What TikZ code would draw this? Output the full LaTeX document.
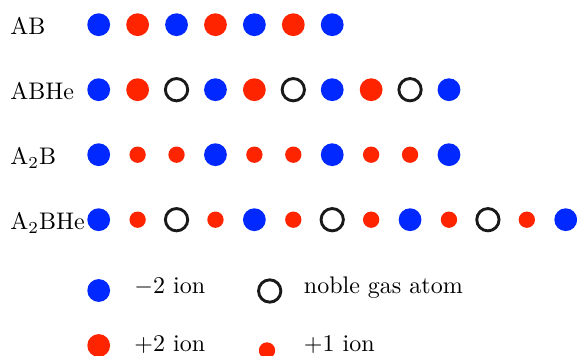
\documentclass[tikz,border=0pt]{standalone}
\usepackage{xcolor}
\usepackage{tikz}
\definecolor{ionblue}{RGB}{0,40,255}
\definecolor{ionred}{RGB}{255,36,0}

\begin{document}
\begin{tikzpicture}[
    x=0.4167pt, y=-0.4167pt,
    anion/.style={circle, fill=ionblue, inner sep=0pt, minimum size=9.5pt},
    dication/.style={circle, fill=ionred, inner sep=0pt, minimum size=9.5pt},
    cation/.style={circle, fill=ionred, inner sep=0pt, minimum size=6.8pt},
    noble/.style={circle, draw=black!90, line width=1.2pt, inner sep=0pt,
      minimum size=9.3pt},
    rowname/.style={anchor=base west, inner sep=0pt},
    keytext/.style={anchor=base west, inner sep=0pt}
  ]
    \useasboundingbox (0,0) rectangle (577,356);

    % compound names
    \node[rowname] (ab) at (10,35) {AB};
    \node[rowname] (abhe) at (10,100) {ABHe};
    \node[rowname] (atwob) at (10,165) {A$_2$B};
    \node[rowname] (atwobhe) at (10,230) {A$_2$BHe};

    % chains of atoms
    \foreach \kind [count=\i] in {anion,dication,anion,dication,anion,dication,anion}
      \node[\kind] (ab-\i) at ({98.7+38.92*(\i-1)},24.7) {};
    \foreach \kind [count=\i] in {anion,dication,noble,anion,dication,noble,anion,dication,noble,anion}
      \node[\kind] (abhe-\i) at ({98.7+38.92*(\i-1)},89.7) {};
    \foreach \kind [count=\i] in {anion,cation,cation,anion,cation,cation,anion,cation,cation,anion}
      \node[\kind] (atwob-\i) at ({98.7+38.92*(\i-1)},154.7) {};
    \foreach \kind [count=\i] in {anion,cation,noble,cation,anion,cation,noble,cation,anion,cation,noble,cation,anion}
      \node[\kind] (atwobhe-\i) at ({98.7+38.92*(\i-1)},219.7) {};

    % key
    \node[anion] (key-anion) at (98.7,290.5) {};
    \node[keytext] (key-anion-text) at (134,293.5) {$-2$ ion};
    \node[noble] (key-noble) at (269.7,291) {};
    \node[keytext] (key-noble-text) at (303.5,293.5) {noble gas atom};
    \node[dication] (key-dication) at (98.7,345.5) {};
    \node[keytext] (key-dication-text) at (134,352) {$+2$ ion};
    \node[cation] (key-cation) at (267,350.5) {};
    \node[keytext] (key-cation-text) at (303.5,352) {$+1$ ion};
  \end{tikzpicture}
\end{document}
